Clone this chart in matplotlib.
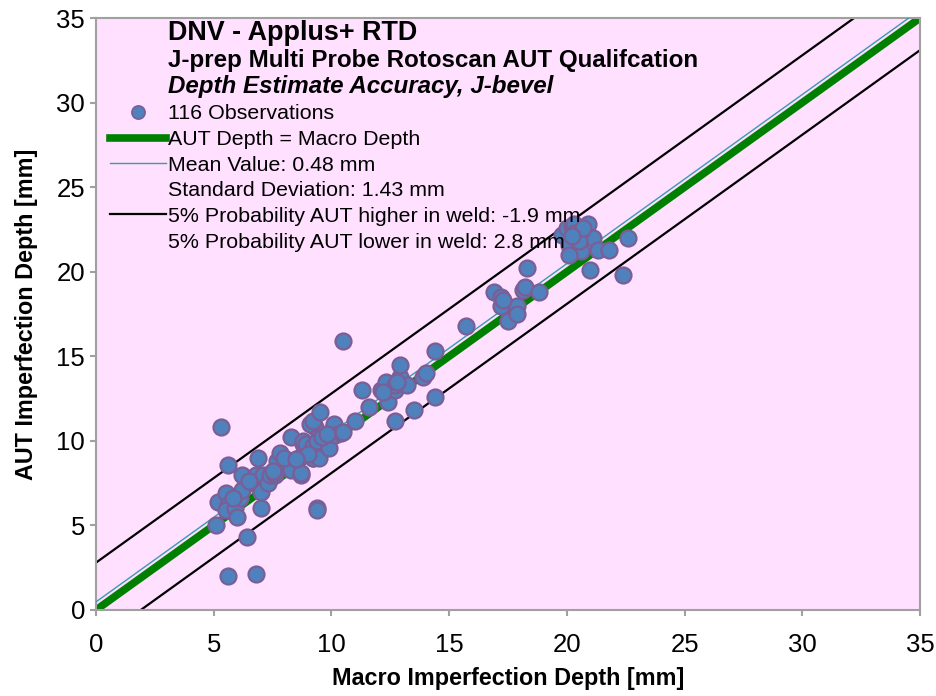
import matplotlib.pyplot as plt
import numpy as np
from matplotlib.lines import Line2D

# data (macro depth, AUT depth) in mm
macro = [5.3, 5.6, 5.1, 5.6, 6.8, 6.4, 7.0, 5.2, 5.5, 5.6, 5.5, 5.9, 6.0, 6.1, 6.2, 6.2,
         6.7, 6.8, 6.9, 7.0, 7.1, 7.3, 7.4, 7.6, 7.6, 7.7, 7.8, 8.1, 8.1, 8.3, 8.3, 8.6,
         8.7, 8.7, 8.8, 8.8, 8.9, 9.2, 9.2, 9.2, 9.4, 9.45, 9.3, 9.1, 9.2, 9.5, 9.4, 9.4,
         9.9, 9.9, 10.1, 10.1, 10.15, 10.4, 10.5, 10.5,
         11.0, 11.3, 11.6, 12.1, 12.3, 12.4, 12.7, 12.7, 12.7, 12.9, 12.9, 13.2, 13.5, 13.9,
         14.0, 14.4, 14.4,
         15.7, 16.9, 17.2, 17.2, 17.5, 17.9, 17.9, 18.15, 18.2, 18.3, 18.8,
         19.8, 20.0, 20.2, 20.3, 20.9, 20.8, 20.4, 21.1, 20.1, 20.6, 20.1, 21.3, 21.8, 22.6,
         21.0, 22.4, 20.6, 20.3, 20.5,
         7.5, 8.0, 9.0, 9.6, 9.8, 6.5, 5.8, 12.2, 12.8, 20.7, 20.2, 17.3, 8.5]
aut = [10.8, 8.6, 5.0, 2.0, 2.1, 4.3, 6.0, 6.4, 6.9, 6.2, 5.9, 6.0, 5.5, 6.6, 7.1, 8.0,
       7.5, 8.0, 9.0, 7.0, 8.0, 7.5, 8.0, 8.0, 8.1, 8.8, 9.3, 8.6, 8.7, 8.3, 10.2, 9.0,
       8.0, 8.1, 9.8, 10.0, 9.8, 9.0, 9.0, 9.7, 10.0, 9.0, 10.8, 11.0, 11.2, 11.7, 6.0, 5.9,
       10.25, 9.6, 10.9, 11.0, 10.35, 10.45, 10.5, 15.9,
       11.2, 13.0, 12.0, 13.0, 13.5, 12.3, 13.0, 13.3, 11.2, 13.8, 14.5, 13.3, 11.8, 13.8,
       14.0, 15.3, 12.6,
       16.8, 18.8, 18.5, 18.0, 17.1, 18.0, 17.5, 18.9, 19.1, 20.2, 18.8,
       22.2, 22.6, 22.7, 22.8, 22.8, 22.1, 22.0, 22.0, 21.6, 21.2, 21.0, 21.3, 21.3, 22.0,
       20.1, 19.8, 22.4, 22.3, 21.8,
       8.2, 9.0, 9.2, 10.2, 10.4, 7.6, 6.6, 12.9, 13.5, 22.6, 22.1, 18.3, 8.9]

mean_offset = 0.48
upper_offset = 2.8
lower_offset = -1.9
line_x = np.array([0, 35])

plt.rcParams['font.family'] = ['Liberation Sans', 'DejaVu Sans']

fig = plt.figure(figsize=(9.37, 6.96), dpi=100)
ax = fig.add_axes([0.1025, 0.1236, 0.8794, 0.8505])
ax.set_facecolor('#FFE0FF')

ax.plot(line_x, line_x + upper_offset, color='black', lw=1.6, zorder=2)
ax.plot(line_x, line_x + lower_offset, color='black', lw=1.6, zorder=2)
ax.plot(line_x, line_x, color='#008000', lw=5.5, zorder=2)
ax.plot(line_x, line_x + mean_offset, color='#3A9AB0', lw=1.0, zorder=3)
ax.plot(macro, aut, 'o', ms=11.5, mfc='#4F81BD', mec='#7B5E96', mew=1.6, zorder=4)

ax.set_xlim(0, 35)
ax.set_ylim(0, 35)
ax.set_xticks(range(0, 36, 5))
ax.set_yticks(range(0, 36, 5))
for s in ax.spines.values():
    s.set_color('#A0A0A0')
    s.set_linewidth(1.5)
ax.tick_params(colors='#A0A0A0', labelcolor='black', length=4.5, width=1.5, labelsize=18.5)
ax.tick_params(axis='x', pad=12)

ax.set_xlabel('Macro Imperfection Depth [mm]', fontsize=16.8, fontweight='bold', labelpad=7)
ax.set_ylabel('AUT Imperfection Depth [mm]', fontsize=16.8, fontweight='bold', labelpad=13)

# title block
ax.text(0.0874, 0.975, 'DNV - Applus+ RTD', transform=ax.transAxes, fontsize=19.4,
        fontweight='bold', va='center')
ax.text(0.0874, 0.929, 'J-prep Multi Probe Rotoscan AUT Qualifcation', transform=ax.transAxes,
        fontsize=17.4, fontweight='bold', va='center')
ax.text(0.0874, 0.884, 'Depth Estimate Accuracy, J-bevel', transform=ax.transAxes,
        fontsize=17.4, fontweight='bold', style='italic', va='center')

handles = [
    Line2D([], [], ls='none', marker='o', ms=9.5, mfc='#4F81BD', mec='#7B5E96', mew=1.2),
    Line2D([], [], color='#008000', lw=5.5),
    Line2D([], [], color='#3A9AB0', lw=1.0),
    Line2D([], [], color='none'),
    Line2D([], [], color='black', lw=1.6),
    Line2D([], [], color='none'),
]
labels = ['116 Observations', 'AUT Depth = Macro Depth', 'Mean Value: 0.48 mm',
          'Standard Deviation: 1.43 mm', '5% Probability AUT higher in weld: -1.9 mm',
          '5% Probability AUT lower in weld: 2.8 mm']
leg = ax.legend(handles, labels, loc='upper left', bbox_to_anchor=(0.017, 0.854),
                frameon=False, fontsize=15.4, borderpad=0, borderaxespad=0,
                handlelength=2.6, handletextpad=0.12, labelspacing=0.31)

fig.savefig('out.png', dpi=100)
